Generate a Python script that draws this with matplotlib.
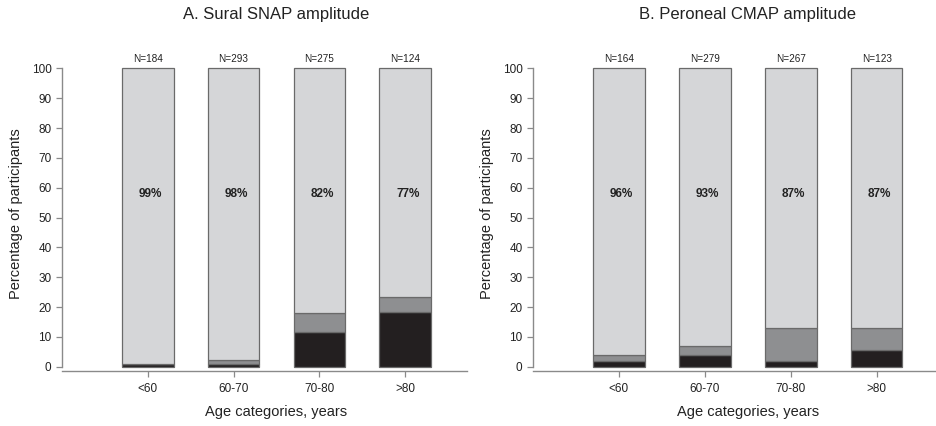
import matplotlib
matplotlib.use("Agg")
import matplotlib.pyplot as plt
from matplotlib.transforms import blended_transform_factory

plt.rcParams['font.family'] = ['Liberation Sans', 'DejaVu Sans']

categories = ["<60", "60-70", "70-80", ">80"]

# Panel A: Sural SNAP amplitude
sural_black = [1.0, 1.0, 11.5, 18.5]
sural_grey = [0.0, 1.2, 6.5, 4.8]
sural_n = [184, 293, 275, 124]
sural_pct = ["99%", "98%", "82%", "77%"]

# Panel B: Peroneal CMAP amplitude
peroneal_black = [2.0, 3.9, 1.9, 5.7]
peroneal_grey = [1.9, 3.0, 11.0, 7.2]
peroneal_n = [164, 279, 267, 123]
peroneal_pct = ["96%", "93%", "87%", "87%"]

titles = ["A. Sural SNAP amplitude", "B. Peroneal CMAP amplitude"]

c_light = "#d5d6d8"
c_mid = "#8e8f91"
c_dark = "#231f20"
c_edge = "#6a6a6a"
c_axis = "#8a8a8a"

fig = plt.figure(figsize=(9.37, 4.26), dpi=100)
H = 426.0
W = 937.0
ax_bottom_px = 370.7
ax_top_px = 56.4
axes_specs = [(62, 467, 4.72), (533, 936, 4.69)]

panels = [
    (sural_black, sural_grey, sural_n, sural_pct),
    (peroneal_black, peroneal_grey, peroneal_n, peroneal_pct),
]

for i, ((x0, x1, xr), (blk, gry, ns, pcts)) in enumerate(zip(axes_specs, panels)):
    ax = fig.add_axes([x0 / W, 1 - ax_bottom_px / H, (x1 - x0) / W, (ax_bottom_px - ax_top_px) / H])
    pos = list(range(1, len(categories) + 1))
    light = [100 - b - g for b, g in zip(blk, gry)]
    bot2 = [b + g for b, g in zip(blk, gry)]
    kw = dict(width=0.6, edgecolor=c_edge, linewidth=0.9)
    ax.bar(pos, blk, color=c_dark, **kw)
    ax.bar(pos, gry, bottom=blk, color=c_mid, **kw)
    ax.bar(pos, light, bottom=bot2, color=c_light, **kw)
    ax.set_xlim(0, xr)
    ax.set_ylim(-1.34, 104)
    for s in ["top", "right"]:
        ax.spines[s].set_visible(False)
    ax.spines["left"].set_bounds(0, 100)
    ax.spines["left"].set_color(c_axis)
    ax.spines["bottom"].set_color(c_axis)
    ax.spines["left"].set_linewidth(1.0)
    ax.spines["bottom"].set_linewidth(1.0)
    ax.set_yticks(range(0, 101, 10))
    ax.set_xticks(pos)
    ax.set_xticklabels(categories)
    ax.tick_params(axis="both", colors=c_axis, labelcolor="#222222", labelsize=8.5, length=4, width=0.9)
    ax.tick_params(axis="x", pad=5)
    ax.set_ylabel("Percentage of participants", fontsize=10.5, color="#222222", labelpad=6)
    ax.set_xlabel("Age categories, years", fontsize=10.5, color="#222222")
    ax.xaxis.set_label_coords(((276 if i == 0 else 748) - x0) / (x1 - x0), -0.108)
    for p, n, pc in zip(pos, ns, pcts):
        ax.text(p, 103.2, f"N={n}", ha="center", va="center", fontsize=7.2, color="#222222", clip_on=False)
        ax.text(p + 0.03, 58, pc, ha="center", va="center", fontsize=8.5, fontweight="bold", color="#222222")
    tr = blended_transform_factory(ax.transData, fig.transFigure)
    ax.text(2.5, 1 - 15 / H, titles[i], transform=tr, ha="center", va="center", fontsize=12, color="#222222")

fig.savefig("out.png", dpi=100)
